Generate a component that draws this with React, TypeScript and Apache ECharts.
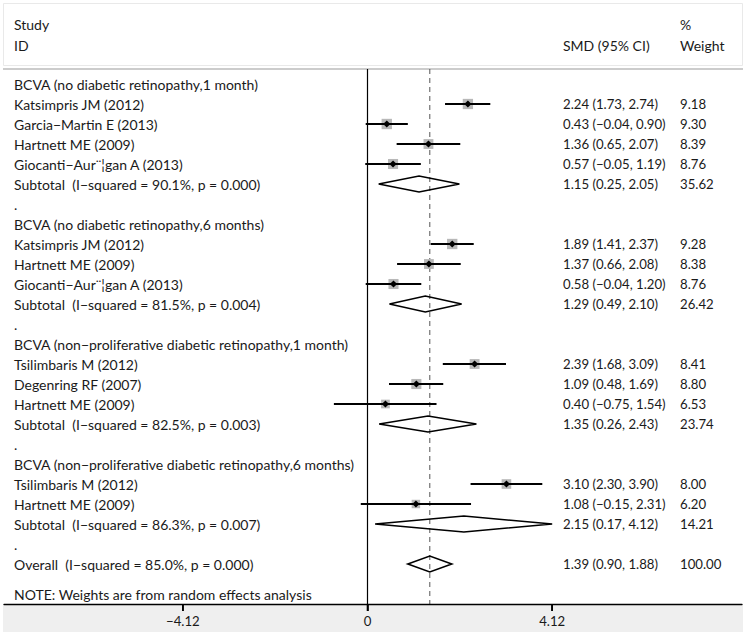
import React, { useEffect, useRef } from "react";
import * as echarts from "echarts";

// ---- Data ----
const rowLabels: string[] = [
  "BCVA (no diabetic retinopathy,1 month)",
  "Katsimpris JM (2012)",
  "Garcia\u2212Martin E (2013)",
  "Hartnett ME (2009)",
  "Giocanti\u2212Aur\u00a8\u00a6gan A (2013)",
  "Subtotal  (I\u2212squared = 90.1%, p = 0.000)",
  ".",
  "BCVA (no diabetic retinopathy,6 months)",
  "Katsimpris JM (2012)",
  "Hartnett ME (2009)",
  "Giocanti\u2212Aur\u00a8\u00a6gan A (2013)",
  "Subtotal  (I\u2212squared = 81.5%, p = 0.004)",
  ".",
  "BCVA (non\u2212proliferative diabetic retinopathy,1 month)",
  "Tsilimbaris M (2012)",
  "Degenring RF (2007)",
  "Hartnett ME (2009)",
  "Subtotal  (I\u2212squared = 82.5%, p = 0.003)",
  ".",
  "BCVA (non\u2212proliferative diabetic retinopathy,6 months)",
  "Tsilimbaris M (2012)",
  "Hartnett ME (2009)",
  "Subtotal  (I\u2212squared = 86.3%, p = 0.007)",
  ".",
  "Overall  (I\u2212squared = 85.0%, p = 0.000)",
];

// "g" group title, "s" study, "p" pooled, "d" dot spacer
const rowTypes: string[] = [
  "g", "s", "s", "s", "s", "p", "d",
  "g", "s", "s", "s", "p", "d",
  "g", "s", "s", "s", "p", "d",
  "g", "s", "s", "p", "d",
  "p",
];

const smd: (number | null)[] = [
  null, 2.24, 0.43, 1.36, 0.57, 1.15, null,
  null, 1.89, 1.37, 0.58, 1.29, null,
  null, 2.39, 1.09, 0.40, 1.35, null,
  null, 3.10, 1.08, 2.15, null,
  1.39,
];
const ciLow: (number | null)[] = [
  null, 1.73, -0.04, 0.65, -0.05, 0.25, null,
  null, 1.41, 0.66, -0.04, 0.49, null,
  null, 1.68, 0.48, -0.75, 0.26, null,
  null, 2.30, -0.15, 0.17, null,
  0.90,
];
const ciHigh: (number | null)[] = [
  null, 2.74, 0.90, 2.07, 1.19, 2.05, null,
  null, 2.37, 2.08, 1.20, 2.10, null,
  null, 3.09, 1.69, 1.54, 2.43, null,
  null, 3.90, 2.31, 4.12, null,
  1.88,
];
const weights: (number | null)[] = [
  null, 9.18, 9.30, 8.39, 8.76, 35.62, null,
  null, 9.28, 8.38, 8.76, 26.42, null,
  null, 8.41, 8.80, 6.53, 23.74, null,
  null, 8.00, 6.20, 14.21, null,
  100.0,
];

const overallEffect = 1.39;
const xTicks = [-4.12, 0, 4.12];
const noteText = "NOTE: Weights are from random effects analysis";

const FONT = "Lato";
const FS = 14;
const FSN = 13.2;
const TXT = "#1a1a1a";
const Y_MIN = -0.75;
const Y_MAX = 26;

const fmt = (v: number) => (v < 0 ? "\u2212" + Math.abs(v).toFixed(2) : v.toFixed(2));

export default function App() {
  const ref = useRef<HTMLDivElement>(null);

  useEffect(() => {
    if (!ref.current) return;
    const chart = echarts.init(ref.current, undefined, { renderer: "svg" });

    const labelData = rowLabels.map((l, i) => [0, i]);
    const estData: any[] = [];
    rowTypes.forEach((t, i) => {
      if ((t === "s" || t === "p") && smd[i] != null) {
        estData.push([smd[i], ciLow[i], ciHigh[i], i, weights[i], t === "p" ? 1 : 0]);
      }
    });

    const textStyle = (x: number, y: number, text: string, fs: number = FS) => ({
      type: "text",
      x,
      y,
      style: { text, fill: TXT, font: `${fs}px ${FONT}`, verticalAlign: "middle", align: "left" },
    });

    const option: any = {
      animation: false,
      backgroundColor: "#ffffff",
      grid: { left: 4, right: 4, top: 69, bottom: 28 },
      xAxis: {
        type: "value",
        position: "bottom",
        min: (4 - 367.5) / 44.82,
        max: (742 - 367.5) / 44.82,
        z: 20,
        axisLine: { show: true, onZero: false, lineStyle: { color: "#000", width: 1.3 } },
        axisTick: { show: true, customValues: xTicks, length: 7, lineStyle: { color: "#000", width: 1.6 } },
        axisLabel: {
          show: true,
          customValues: xTicks,
          formatter: (v: number) => (v === 0 ? "0" : fmt(v)),
          color: TXT,
          fontFamily: FONT,
          fontSize: FSN,
          margin: 10,
        },
        splitLine: { show: false },
      },
      yAxis: { type: "value", min: Y_MIN, max: Y_MAX, inverse: true, show: false },
      graphic: [
        { type: "rect", shape: { x: 3.5, y: 3.5, width: 739, height: 62 }, style: { fill: "none", stroke: "#e9e9e9", lineWidth: 1 } },
        { type: "line", shape: { x1: 3, y1: 69, x2: 743, y2: 69 }, style: { stroke: "#cccccc", lineWidth: 2 } },
        textStyle(14, 24, "Study"),
        textStyle(14, 45, "ID"),
        textStyle(563, 45, "SMD (95% CI)"),
        textStyle(680, 24, "%"),
        textStyle(680, 45, "Weight"),
      ],
      series: [
        {
          type: "custom",
          name: "axisBand",
          data: [[0, Y_MAX]],
          z: 1,
          clip: false,
          renderItem: (params: any, api: any) => {
            const p = api.coord([0, Y_MAX]);
            const cs = params.coordSys;
            return {
              type: "rect",
              shape: { x: cs.x - 1, y: p[1], width: cs.width + 2, height: api.getHeight() - p[1] },
              style: { fill: "#efefef" },
            };
          },
        },
        {
          type: "custom",
          name: "axisTicks",
          data: xTicks.map((v) => [v, Y_MAX]),
          z: 30,
          clip: false,
          renderItem: (params: any, api: any) => {
            const p = api.coord([api.value(0), Y_MAX]);
            return {
              type: "rect",
              shape: { x: p[0] - 0.8, y: p[1], width: 1.6, height: 7 },
              style: { fill: "#000" },
            };
          },
        },
        {
          type: "custom",
          name: "refLines",
          data: [[0, 0], [overallEffect, 1]],
          z: 2,
          renderItem: (params: any, api: any) => {
            const v = api.value(0);
            const dashed = api.value(1) === 1;
            const p1 = api.coord([v, Y_MIN]);
            const p2 = api.coord([v, Y_MAX]);
            return {
              type: "line",
              shape: { x1: p1[0], y1: p1[1], x2: p2[0], y2: p2[1] },
              style: dashed
                ? { stroke: "#555", lineWidth: 1, lineDash: [5, 4] }
                : { stroke: "#000", lineWidth: 1.2 },
            };
          },
        },
        {
          type: "custom",
          name: "labels",
          data: labelData,
          z: 3,
          renderItem: (params: any, api: any) => {
            const i = api.value(1);
            const p = api.coord([0, i]);
            const cs = params.coordSys;
            return textStyle(cs.x + 10, p[1], rowLabels[i]);
          },
        },
        {
          type: "custom",
          name: "note",
          data: [[0, 25.5]],
          z: 3,
          renderItem: (params: any, api: any) => {
            const p = api.coord([0, api.value(1)]);
            return textStyle(params.coordSys.x + 10, p[1], noteText);
          },
        },
        {
          type: "custom",
          name: "estimates",
          data: estData,
          z: 4,
          renderItem: (params: any, api: any) => {
            const est = api.value(0);
            const lo = api.value(1);
            const hi = api.value(2);
            const i = api.value(3);
            const w = api.value(4);
            const pooled = api.value(5) === 1;
            const pE = api.coord([est, i]);
            const pL = api.coord([lo, i]);
            const pH = api.coord([hi, i]);
            const rowH = api.size([0, 1])[1];
            const children: any[] = [];
            if (pooled) {
              const hh = rowH * 0.4;
              children.push({
                type: "polygon",
                shape: { points: [[pL[0], pE[1]], [pE[0], pE[1] - hh], [pH[0], pE[1]], [pE[0], pE[1] + hh]] },
                style: { fill: "none", stroke: "#000", lineWidth: 1.6 },
              });
            } else {
              const s = 3.4 * Math.sqrt(w);
              children.push({
                type: "rect",
                shape: { x: pE[0] - s / 2, y: pE[1] - s / 2, width: s, height: s },
                style: { fill: "#b8b8b8" },
              });
              children.push({
                type: "line",
                shape: { x1: pL[0], y1: pE[1], x2: pH[0], y2: pE[1] },
                style: { stroke: "#000", lineWidth: 2 },
              });
              const d = 3.6;
              children.push({
                type: "polygon",
                shape: { points: [[pE[0] - d, pE[1]], [pE[0], pE[1] - d], [pE[0] + d, pE[1]], [pE[0], pE[1] + d]] },
                style: { fill: "#000" },
              });
            }
            children.push(textStyle(563, pE[1], `${fmt(est)} (${fmt(lo)}, ${fmt(hi)})`, FSN));
            children.push(textStyle(680, pE[1], w.toFixed(2), FSN));
            return { type: "group", children };
          },
        },
      ],
    };

    chart.setOption(option);
    return () => chart.dispose();
  }, []);

  return (
    <div
      ref={ref}
      style={{ position: "fixed", left: 0, top: 0, width: 746, height: 632, background: "#fff" }}
    />
  );
}
